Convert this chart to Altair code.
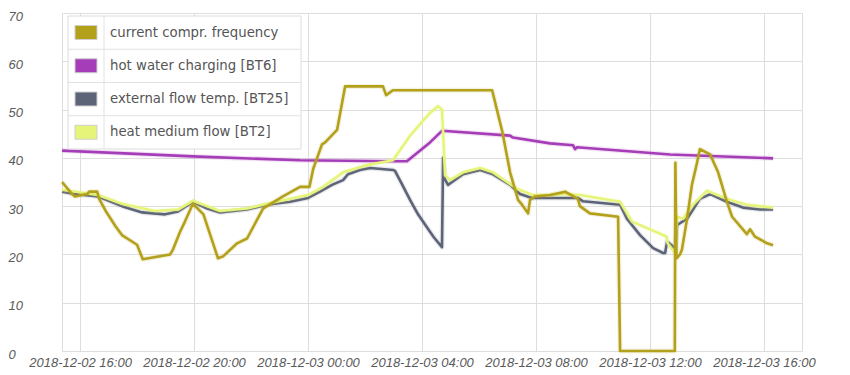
import altair as alt
import pandas as pd

# hours are counted from 2018-12-02 00:00
comp_hours = [15.37, 15.72, 15.82, 16.25, 16.32, 16.60, 16.67, 16.90, 17.25, 17.47, 18.00, 18.20,
              19.16, 19.26, 19.51, 19.68, 19.96, 20.33, 20.84, 21.02, 21.51, 21.86, 22.42, 23.12,
              23.72, 24.05, 24.18, 24.49, 24.60, 25.02, 25.12, 25.30, 26.63, 26.74, 26.98, 30.46,
              30.81, 31.09, 31.37, 31.51, 31.72, 31.79, 31.96, 32.50, 33.02, 33.47, 33.54, 33.89,
              34.88, 34.95, 36.87, 36.89, 36.93, 37.05, 37.12, 37.30, 37.47, 37.65, 37.75, 38.11,
              38.39, 38.70, 38.88, 39.40, 39.51, 39.68, 40.11, 40.32]
comp_vals = [35.0, 32.5, 32.0, 32.5, 33.0, 33.0, 31.5, 29.0, 25.8, 24.0, 22.0, 19.0,
             20.0, 21.0, 24.7, 26.8, 30.5, 28.3, 19.2, 19.6, 22.3, 23.3, 29.5, 32.0,
             34.0, 34.0, 37.7, 42.8, 43.2, 45.8, 49.0, 54.8, 54.8, 53.0, 54.0, 54.0,
             45.6, 37.0, 31.3, 30.3, 28.5, 31.3, 32.0, 32.3, 33.0, 31.5, 30.0, 28.5,
             27.8, 0.0, 0.0, 39.0, 19.2, 20.0, 21.0, 27.4, 34.4, 39.0, 41.8, 40.7,
             37.0, 30.9, 27.8, 24.2, 25.2, 23.7, 22.3, 21.9]

bt6_hours = [15.37, 19.96, 23.72, 26.98, 27.47, 28.28, 28.70, 31.09, 31.19, 32.49, 33.30,
             33.37, 33.44, 36.70, 40.32]
bt6_vals = [41.5, 40.3, 39.5, 39.3, 39.3, 43.2, 45.6, 44.6, 44.2, 43.0, 42.6,
            41.8, 42.2, 40.7, 39.9]

bt25_hours = [15.37, 15.82, 16.63, 17.47, 18.18, 18.98, 19.44, 19.96, 20.46, 20.91, 21.86,
              22.56, 23.37, 24.00, 24.42, 24.84, 25.23, 25.40, 25.82, 26.18, 26.98, 27.05,
              27.30, 27.58, 27.86, 28.14, 28.42, 28.70, 28.74, 28.81, 28.91, 29.44, 30.04,
              30.49, 31.09, 31.44, 31.86, 32.49, 33.47, 33.65, 34.95, 35.19, 35.65, 36.11,
              36.46, 36.53, 36.60, 36.88, 36.95, 36.98, 37.30, 37.75, 38.11, 38.70, 39.26,
              39.86, 40.32]
bt25_vals = [33.0, 32.5, 32.0, 30.0, 28.7, 28.3, 28.9, 30.9, 29.5, 28.7, 29.3,
             30.3, 30.9, 31.7, 33.0, 34.4, 35.4, 36.6, 37.5, 37.9, 37.5, 37.3,
             34.5, 31.3, 28.3, 25.9, 23.5, 21.5, 40.0, 35.5, 34.4, 36.6, 37.5,
             36.6, 34.4, 32.5, 31.7, 31.7, 31.7, 31.0, 30.3, 27.4, 24.0, 21.3,
             20.3, 20.3, 22.7, 21.3, 26.2, 26.2, 27.4, 31.5, 32.5, 30.9, 29.7,
             29.3, 29.3]

bt2_hours = [15.37, 16.63, 17.47, 18.63, 19.44, 19.96, 20.91, 21.86, 22.56, 24.00, 24.53,
             25.23, 26.07, 26.98, 27.58, 28.28, 28.56, 28.70, 28.81, 28.98, 29.44, 30.04,
             30.49, 31.33, 31.89, 32.49, 33.02, 33.54, 34.95, 35.37, 36.58, 36.62, 36.88,
             36.95, 37.16, 37.51, 38.00, 38.70, 39.40, 40.32]
bt2_vals = [33.4, 32.3, 30.5, 29.0, 29.3, 31.1, 29.0, 29.5, 30.5, 32.3, 34.0,
            37.0, 38.5, 39.5, 44.6, 49.3, 50.7, 50.0, 36.4, 35.4, 37.0, 37.9,
            37.0, 33.6, 32.3, 32.3, 32.5, 32.3, 30.9, 26.8, 23.7, 22.3, 20.3,
            27.8, 27.4, 30.3, 33.2, 31.5, 30.3, 29.7]

series_names = ["current compr. frequency", "hot water charging [BT6]",
                "external flow temp. [BT25]", "heat medium flow [BT2]"]
series_colors = ["#b3a01b", "#a63db8", "#5e6478", "#e6f57a"]

y_ticks = [0, 10, 20, 30, 40, 50, 60, 70]

base = pd.Timestamp("2018-12-02")


def frame(hours, vals):
    ts = base + pd.to_timedelta(hours, unit="h")
    return pd.DataFrame({"t": ts.strftime("%Y-%m-%dT%H:%M:%S"), "v": vals})


x_scale = alt.Scale(domain=[alt.DateTime(year=2018, month=12, date=2, hours=15, minutes=22),
                            alt.DateTime(year=2018, month=12, date=3, hours=17, minutes=20)])
y_scale = alt.Scale(domain=[0, 70])

x_axis = alt.Axis(
    title=None, format="%Y-%m-%d %H:%M",
    values=[alt.DateTime(year=2018, month=12, date=d, hours=h)
            for d, h in [(2, 16), (2, 20), (3, 0), (3, 4), (3, 8), (3, 12), (3, 16)]],
    labelFontStyle="italic", labelFont="Liberation Sans", labelFontSize=13,
    labelColor="#5a5a5a", labelPadding=5, ticks=False, domain=False,
    gridColor="#dedede", labelFlush=False, labelOverlap=False)
y_axis = alt.Axis(
    title=None, values=y_ticks, labelAlign="left", labelPadding=54,
    labelFontStyle="italic", labelFont="Liberation Sans", labelFontSize=13,
    labelColor="#5a5a5a", ticks=False, domain=False, gridColor="#dedede", labelOffset=3)


def line(hours, vals, color):
    enc = dict(
        x=alt.X("t:T", scale=x_scale, axis=x_axis),
        y=alt.Y("v:Q", scale=y_scale, axis=y_axis),
    )
    df = frame(hours, vals)
    halo = alt.Chart(df).mark_line(
        color=color, strokeWidth=5, opacity=0.15, strokeJoin="round").encode(**enc)
    core = alt.Chart(df).mark_line(
        color=color, strokeWidth=2.6, strokeJoin="round").encode(**enc)
    return alt.layer(halo, core)


lines = alt.layer(
    line(bt6_hours, bt6_vals, series_colors[1]),
    line(bt25_hours, bt25_vals, series_colors[2]),
    line(bt2_hours, bt2_vals, series_colors[3]),
    line(comp_hours, comp_vals, series_colors[0]),
)

# ---- legend table (top-left, inside the plot) ----
leg = pd.DataFrame({"name": series_names, "color": series_colors, "row": [0, 1, 2, 3]})
one = pd.DataFrame({"a": [0]})

box = alt.Chart(one).mark_rect(fill="white", stroke="#dcdcdc", strokeWidth=1).encode(
    x=alt.value(6), x2=alt.value(239), y=alt.value(3), y2=alt.value(136))
vdiv = alt.Chart(one).mark_rule(color="#e2e2e2").encode(
    x=alt.value(42), y=alt.value(3), y2=alt.value(136))
hlines = alt.Chart(pd.DataFrame({"row": [1, 2, 3]})).transform_calculate(
    ly="3 + 33.25 * datum.row").mark_rule(color="#e2e2e2").encode(
    y=alt.Y("ly:Q", scale=None), x=alt.value(6), x2=alt.value(239))
swatch = alt.Chart(leg).transform_calculate(
    sy="12.5 + 33.25 * datum.row", sy2="26.5 + 33.25 * datum.row").mark_rect(
    stroke="#cfcfcf", strokeWidth=1).encode(
    x=alt.value(13), x2=alt.value(35),
    y=alt.Y("sy:Q", scale=None), y2=alt.Y2("sy2:Q"),
    fill=alt.Fill("color:N", scale=None))
labels = alt.Chart(leg).transform_calculate(
    ty="19.6 + 33.25 * datum.row").mark_text(
    align="left", baseline="middle", font="DejaVu Sans", fontSize=13.3, color="#555").encode(
    x=alt.value(48), y=alt.Y("ty:Q", scale=None), text="name:N")

legend = alt.layer(box, vdiv, hlines, swatch, labels)

chart = alt.layer(lines, legend).properties(
    width=740, height=338,
    autosize=alt.AutoSizeParams(type="none"),
    padding={"left": 54, "top": 5, "right": 40, "bottom": 24},
).configure_view(stroke="#dcdcdc", strokeWidth=1).configure(background="white")

chart.save("out.html", embed_options={"renderer": "svg", "actions": False})
